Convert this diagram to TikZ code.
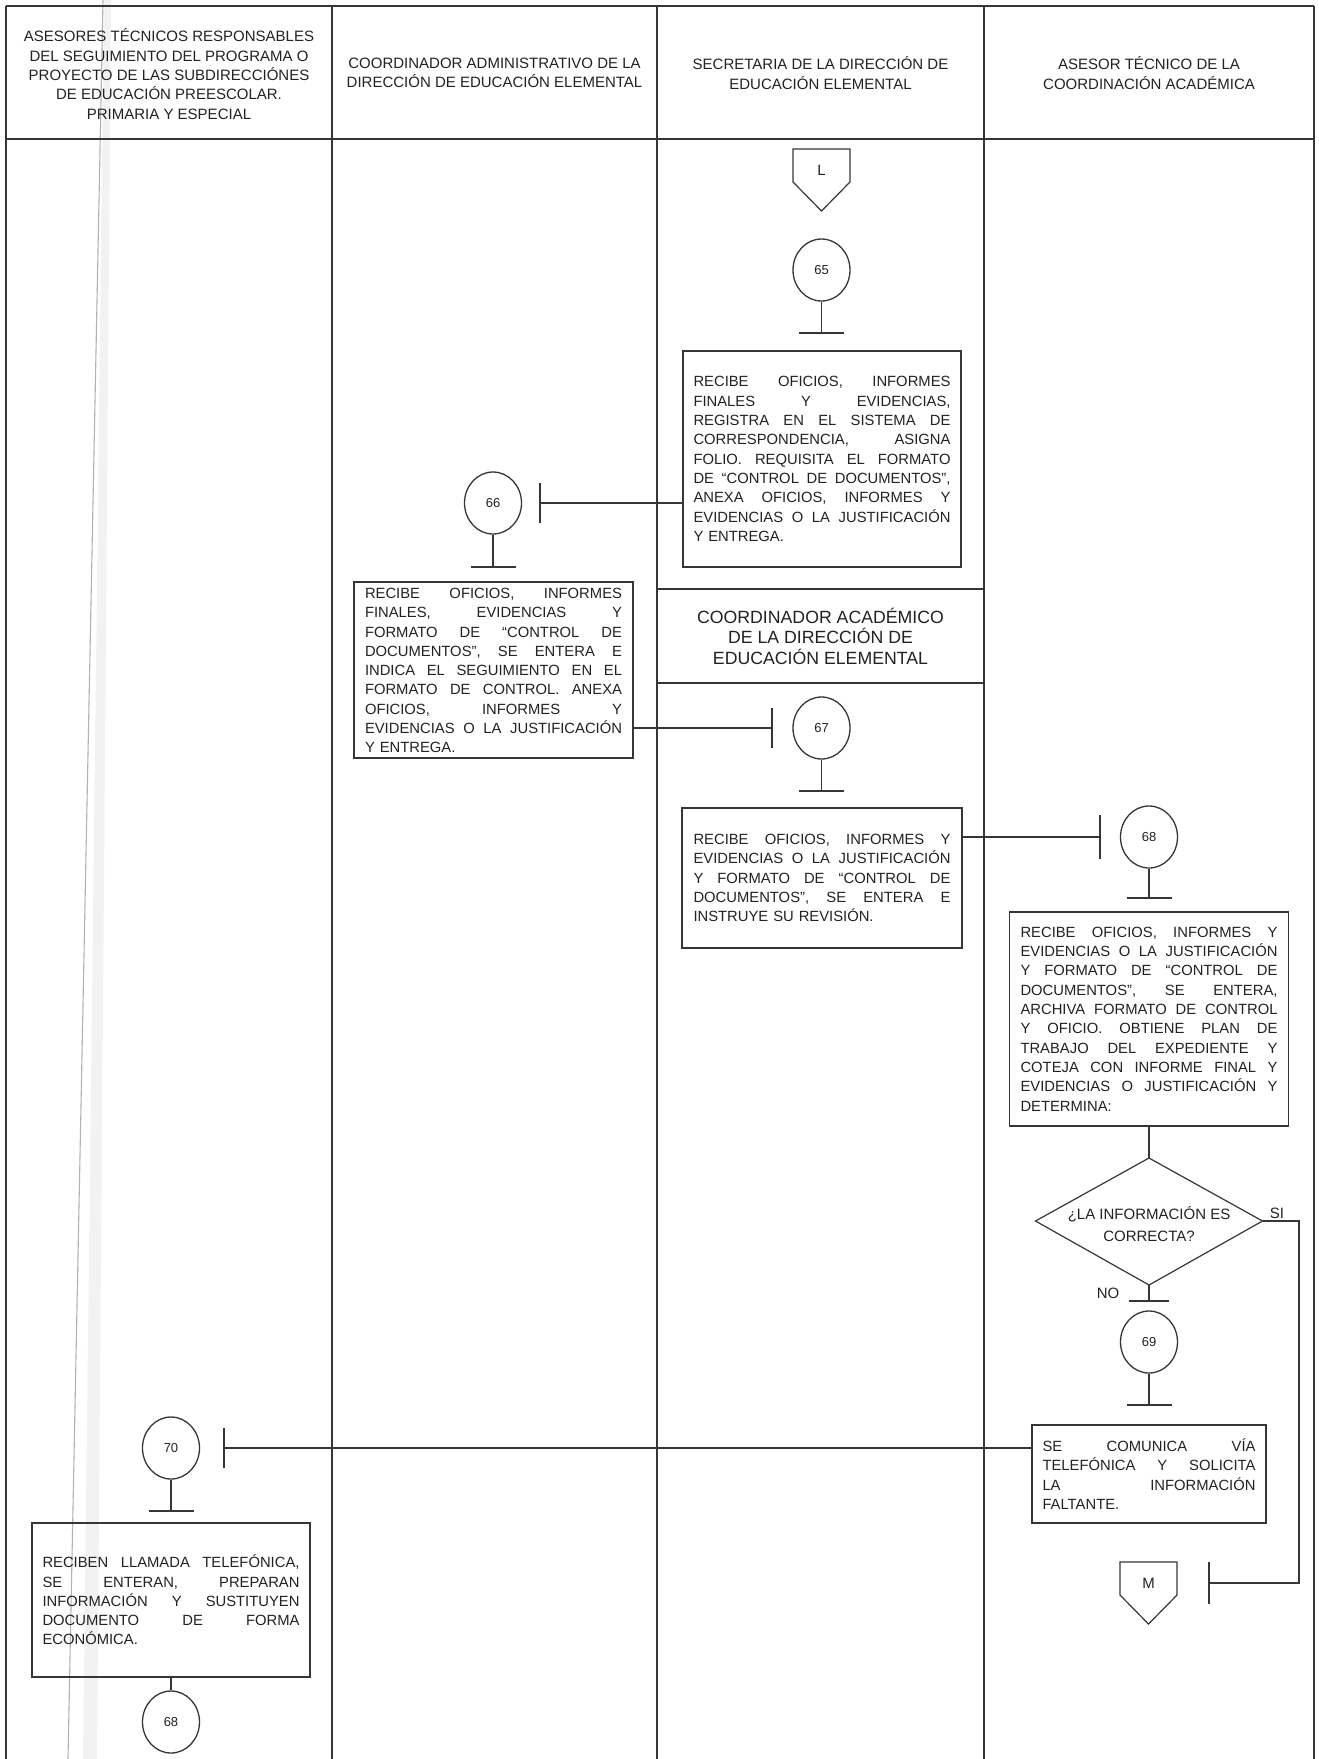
\documentclass[tikz,border=0pt]{standalone}
\usepackage{fontspec}
\setmainfont{Liberation Sans}
\usetikzlibrary{shapes.geometric}
\setlength\parindent{0pt}

\definecolor{lineclr}{HTML}{363636}
\definecolor{txtclr}{HTML}{222222}

\newcommand\flowfont{\fontsize{14.8}{19.3}\selectfont}
\newcommand\headfont{\fontsize{15}{19.3}\selectfont}
\newcommand\subheadfont{\fontsize{17.7}{20.5}\selectfont}
\newcommand\numfont{\fontsize{13}{15}\selectfont}
% one fully justified line of a step box: the word spaces take up the slack
\newcommand\jl[2][257pt]{\leavevmode\hbox to #1{\frenchspacing\spaceskip=0.25em plus 1fil\relax #2}}

\begin{document}
\begin{tikzpicture}[x=1pt,y=-1pt,
  frameline/.style={draw=lineclr, line width=1.2pt},
  conn/.style={draw=lineclr, line width=1.2pt},
  stepbox/.style={rectangle, draw=lineclr, line width=1.3pt, inner sep=0pt,
    text width=257pt, align=left, font=\flowfont, text=txtclr},
  steptext/.style={rectangle, inner sep=0pt, text width=257pt, align=left,
    font=\flowfont, text=txtclr},
  stepnum/.style={ellipse, draw=lineclr, line width=1.3pt, inner sep=0pt,
    minimum width=57pt, minimum height=62pt, font=\numfont, text=txtclr},
  headtext/.style={align=center, font=\headfont, text=txtclr, inner sep=0pt},
  plain/.style={font=\headfont, text=txtclr, inner sep=0pt}
]
\useasboundingbox (0,0) rectangle (1319,1759);
\fill[white] (0,0) rectangle (1319,1759);

% binding shadow running down the first lane
\fill[gray!10] (104,0) -- (111,0) -- (97,1759) -- (83,1759) -- cycle;
\draw[gray!60, line width=1.1pt] (103,0) -- (68,1759);

% lane frame
\draw[frameline] (6,6) -- (1314,6);
\draw[frameline] (6,139) -- (1314,139);
\foreach \lx in {6,332,657,984,1314}
  \draw[frameline] (\lx,6) -- (\lx,1759);
\draw[frameline] (657,589) -- (984,589);
\draw[frameline] (657,683) -- (984,683);

% lane titles
\node[headtext] (h1) at (169,74) {ASESORES TÉCNICOS RESPONSABLES\\DEL SEGUIMIENTO DEL PROGRAMA O\\PROYECTO DE LAS SUBDIRECCIÓNES\\DE EDUCACIÓN PREESCOLAR.\\PRIMARIA Y ESPECIAL};
\node[headtext] (h2) at (494.5,73) {COORDINADOR ADMINISTRATIVO DE LA\\DIRECCIÓN DE EDUCACIÓN ELEMENTAL};
\node[headtext] (h3) at (820.5,73) {SECRETARIA DE LA DIRECCIÓN DE\\EDUCACIÓN ELEMENTAL};
\node[headtext] (h4) at (1149,73) {ASESOR TÉCNICO DE LA\\COORDINACIÓN ACADÉMICA};
\node[headtext, font=\subheadfont] (h5) at (820.5,636) {COORDINADOR ACADÉMICO\\DE LA DIRECCIÓN DE\\EDUCACIÓN ELEMENTAL};

% off-page connector L
\draw[conn] (793,149) -- (850,149) -- (850,182) -- (821.5,211) -- (793,182) -- cycle;
\node[plain] (offL) at (821.5,170) {L};

% step 65
\node[stepnum] (c65) at (821.5,270) {65};
\coordinate (b65) at (821.5,333);
\draw[conn] (c65.south) -- (b65);
\draw[conn] ([xshift=-22.5pt]b65) -- ([xshift=22.5pt]b65);
\node[stepbox, minimum width=278pt, minimum height=216pt] (box65) at (822,459) {%
\jl{RECIBE OFICIOS, INFORMES}\\
\jl{FINALES Y EVIDENCIAS,}\\
\jl{REGISTRA EN EL SISTEMA DE}\\
\jl{CORRESPONDENCIA, ASIGNA}\\
\jl{FOLIO. REQUISITA EL FORMATO}\\
\jl{DE “CONTROL DE DOCUMENTOS”,}\\
\jl{ANEXA OFICIOS, INFORMES Y}\\
\jl{EVIDENCIAS O LA JUSTIFICACIÓN}\\
Y ENTREGA.};

% step 66
\node[stepnum] (c66) at (493,503) {66};
\coordinate (t66) at (540,503);
\draw[conn] (box65.west |- t66) -- (t66);
\draw[conn] ([yshift=-20pt]t66) -- ([yshift=20pt]t66);
\coordinate (b66) at (493,567);
\draw[conn] (c66.south) -- (b66);
\draw[conn] ([xshift=-22.5pt]b66) -- ([xshift=22.5pt]b66);
\node[stepbox, minimum width=279pt, minimum height=176pt] (box66) at (493.5,670) {};
\node[steptext] (box66t) at (493.5,670.5) {%
\jl{RECIBE OFICIOS, INFORMES}\\
\jl{FINALES, EVIDENCIAS Y}\\
\jl{FORMATO DE “CONTROL DE}\\
\jl{DOCUMENTOS”, SE ENTERA E}\\
\jl{INDICA EL SEGUIMIENTO EN EL}\\
\jl{FORMATO DE CONTROL. ANEXA}\\
\jl{OFICIOS, INFORMES Y}\\
\jl{EVIDENCIAS O LA JUSTIFICACIÓN}\\
Y ENTREGA.};

% step 67
\node[stepnum] (c67) at (821.5,728) {67};
\coordinate (t67) at (772,728);
\draw[conn] (box66.east |- t67) -- (t67);
\draw[conn] ([yshift=-20pt]t67) -- ([yshift=20pt]t67);
\coordinate (b67) at (821.5,791);
\draw[conn] (c67.south) -- (b67);
\draw[conn] ([xshift=-22.5pt]b67) -- ([xshift=22.5pt]b67);
\node[stepbox, minimum width=280pt, minimum height=140pt] (box67) at (822,878) {%
\jl{RECIBE OFICIOS, INFORMES Y}\\
\jl{EVIDENCIAS O LA JUSTIFICACIÓN}\\
\jl{Y FORMATO DE “CONTROL DE}\\
\jl{DOCUMENTOS”, SE ENTERA E}\\
INSTRUYE SU REVISIÓN.};

% step 68
\node[stepnum] (c68) at (1149,837) {68};
\coordinate (t68) at (1100,837);
\draw[conn] (box67.east |- t68) -- (t68);
\draw[conn] ([yshift=-22pt]t68) -- ([yshift=22pt]t68);
\coordinate (b68) at (1149,898);
\draw[conn] (c68.south) -- (b68);
\draw[conn] ([xshift=-22.5pt]b68) -- ([xshift=22.5pt]b68);
\node[stepbox, minimum width=279pt, minimum height=214pt] (box68) at (1149,1019) {%
\jl{RECIBE OFICIOS, INFORMES Y}\\
\jl{EVIDENCIAS O LA JUSTIFICACIÓN}\\
\jl{Y FORMATO DE “CONTROL DE}\\
\jl{DOCUMENTOS”, SE ENTERA,}\\
\jl{ARCHIVA FORMATO DE CONTROL}\\
\jl{Y OFICIO. OBTIENE PLAN DE}\\
\jl{TRABAJO DEL EXPEDIENTE Y}\\
\jl{COTEJA CON INFORME FINAL Y}\\
\jl{EVIDENCIAS O JUSTIFICACIÓN Y}\\
DETERMINA:};

% decision
\coordinate (dqn) at (1149,1158);
\coordinate (dqe) at (1262.5,1221);
\coordinate (dqs) at (1149,1285);
\coordinate (dqw) at (1035.5,1221);
\draw[conn] (dqn) -- (dqe) -- (dqs) -- (dqw) -- cycle;
\node[headtext, font=\fontsize{15}{22}\selectfont] (dq) at (1149,1224) {¿LA INFORMACIÓN ES\\CORRECTA?};
\draw[conn] (box68.south) -- (dqn);
\node[plain] (lblsi) at (1277,1213) {SI};
\node[plain] (lblno) at (1108,1293) {NO};

% NO branch: step 69
\coordinate (bno) at (1149,1301);
\draw[conn] (dqs) -- (bno);
\draw[conn] ([xshift=-20pt]bno) -- ([xshift=20pt]bno);
\node[stepnum] (c69) at (1149,1342) {69};
\coordinate (b69) at (1149,1405);
\draw[conn] (c69.south) -- (b69);
\draw[conn] ([xshift=-22.5pt]b69) -- ([xshift=22.5pt]b69);
\node[stepbox, text width=213pt, minimum width=234pt, minimum height=98pt] (box69) at (1149,1474) {%
\jl[213pt]{SE COMUNICA VÍA}\\
\jl[213pt]{TELEFÓNICA Y SOLICITA}\\
\jl[213pt]{LA INFORMACIÓN}\\
FALTANTE.};

% SI branch: off-page connector M
\draw[conn] (1120,1562) -- (1177,1562) -- (1177,1595) -- (1148.5,1624) -- (1120,1595) -- cycle;
\node[plain] (offM) at (1148.5,1583) {M};
\coordinate (tM) at (1209,1583);
\draw[conn] (dqe) -- (1299,1221) -- (1299,1583) -- (tM);
\draw[conn] ([yshift=-21pt]tM) -- ([yshift=21pt]tM);

% step 70
\node[stepnum] (c70) at (171,1448) {70};
\coordinate (t70) at (224,1448);
\draw[conn] (box69.west |- t70) -- (t70);
\draw[conn] ([yshift=-20pt]t70) -- ([yshift=20pt]t70);
\coordinate (b70) at (171,1511);
\draw[conn] (c70.south) -- (b70);
\draw[conn] ([xshift=-22.5pt]b70) -- ([xshift=22.5pt]b70);
\node[stepbox, minimum width=278pt, minimum height=154pt] (box70) at (171,1600) {%
\jl{RECIBEN LLAMADA TELEFÓNICA,}\\
\jl{SE ENTERAN, PREPARAN}\\
\jl{INFORMACIÓN Y SUSTITUYEN}\\
\jl{DOCUMENTO DE FORMA}\\
ECONÓMICA.\\[14pt]};

% back to step 68
\node[stepnum] (c68b) at (171,1722) {68};
\draw[conn] (box70.south) -- (c68b.north);
\end{tikzpicture}
\end{document}
